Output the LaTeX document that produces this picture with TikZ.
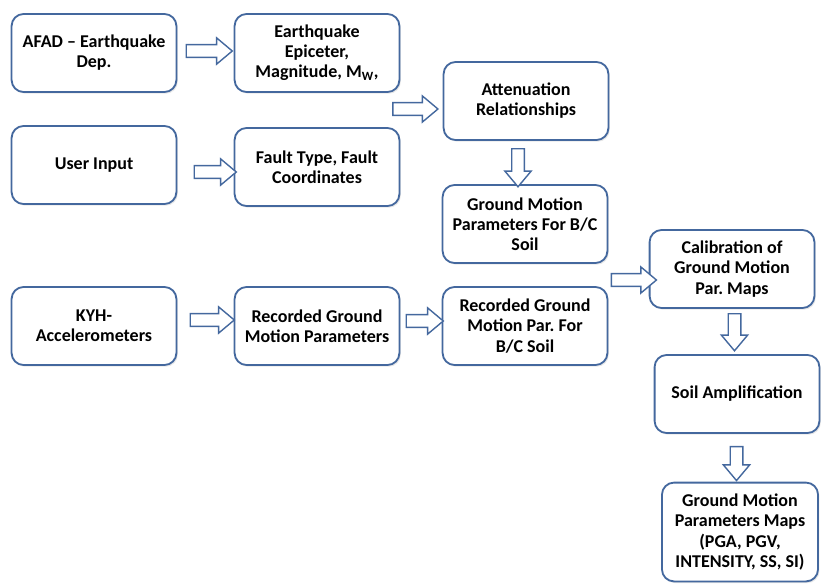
\documentclass[tikz,border=0pt]{standalone}
\usepackage{fontspec}
\setmainfont{Carlito}
\usepackage{tikz}
\usetikzlibrary{shapes.arrows,calc,shadows}
\definecolor{boxblue}{RGB}{68,104,158}
\frenchspacing

\begin{document}
\begin{tikzpicture}[ % px grid, y goes down
        x=0.025cm,
        y=-0.025cm,
        font=\fontsize{12.8}{14.3}\selectfont\bfseries, % Calibri bold look
        box/.style={draw=boxblue, line width=1.3pt, fill=white, rounded corners=0.3cm,
          align=center, inner sep=2pt, minimum width=4.12cm, minimum height=1.95cm,
          drop shadow={opacity=0.18, shadow xshift=1pt, shadow yshift=-1.2pt}},
        blk/.style={single arrow, draw=boxblue, line width=1pt, fill=white,
          inner xsep=0pt, inner ysep=0.14cm, single arrow head extend=0.17cm,
          single arrow tip angle=80}
      ]
      \useasboundingbox (0,0) rectangle (821,585); % page size
      %% node
      \node[box] (afad) at (94,53) {AFAD -- Earthquake\\Dep.};
      \node[box] (quake) at (317,53) {Earthquake\\Epiceter,\\Magnitude, M\textsubscript{W},};
      \node[box] (user) at (94,165) {User Input};
      \node[box] (fault) at (317,167) {Fault Type, Fault\\Coordinates};
      \node[box] (atten) at (526,101) {Attenuation\\Relationships};
      \node[box] (gmbc) at (525,224) {Ground Motion\\Parameters For B/C\\Soil};
      \node[box] (kyh) at (94,326) {KYH-\\Accelerometers};
      \node[box] (recgm) at (317,326) {Recorded Ground\\Motion Parameters};
      \node[box] (recbc) at (525,326) {Recorded Ground\\Motion Par. For\\B/C Soil};
      \node[box] (calib) at (732,269) {Calibration of\\Ground Motion\\Par. Maps};
      \node[box] (soil) at (737,394) {Soil Amplification};
      \node[box, minimum width=3.9cm, minimum height=2.47cm] (maps) at (740,532)
        {Ground Motion\\Parameters Maps\\(PGA, PGV,\\INTENSITY, SS, SI)};
      %% block arrows
      \node[blk, minimum height=1.15cm] (a1) at ($(afad.east)!.5!(quake.west)+(0,-2)$) {};
      \node[blk, minimum height=1.05cm] (a2) at ($(user.east)!.5!(fault.west)+(6,6)$) {};
      \node[blk, minimum height=1.125cm] (a3) at ($(atten.west)+(-31,8)$) {};
      \node[blk, minimum height=0.95cm, rotate=-90] (a4) at ($(atten.south)!.5!(gmbc.north)+(-7.5,1.5)$) {};
      \node[blk, minimum height=1.1cm] (a5) at ($(kyh.east)!.5!(recgm.west)+(3,-6)$) {};
      \node[blk, minimum height=0.925cm] (a6) at ($(recgm.east)!.5!(recbc.west)+(0,-5)$) {};
      \node[blk, minimum height=1.125cm] (a7) at ($(calib.west)+(-18.5,11)$) {};
      \node[blk, minimum height=0.925cm, rotate=-90] (a8) at ($(calib.south)!.5!(soil.north)+(0,-3)$) {};
      \node[blk, minimum height=0.85cm, rotate=-90] (a9) at ($(soil.south)!.5!(maps.north)+(-2,2)$) {};
\end{tikzpicture}
\end{document}
